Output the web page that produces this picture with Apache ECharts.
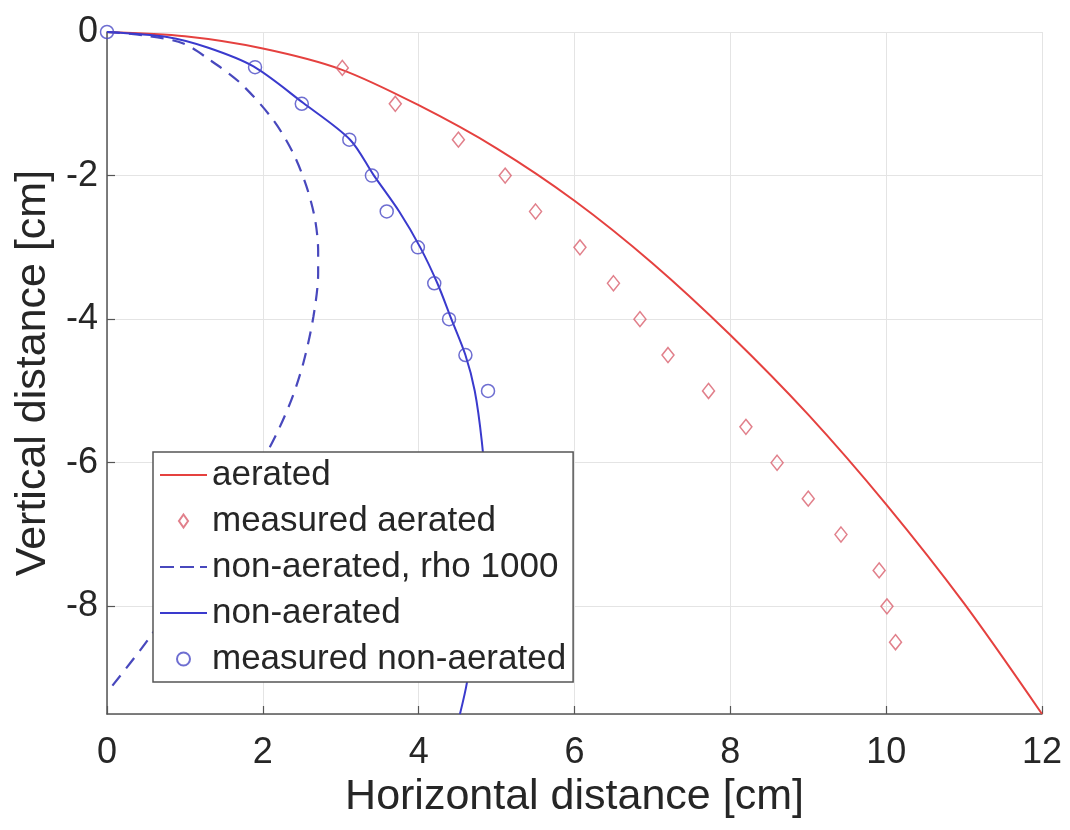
<!DOCTYPE html>
<html>
<head>
<meta charset="utf-8">
<script src="https://cdn.jsdelivr.net/npm/echarts@6/dist/echarts.min.js"></script>
<style>
html,body{margin:0;padding:0;background:#fff;}
#chart{width:1070px;height:830px;}
</style>
</head>
<body>
<div id="chart"></div>
<script>
// ---- data ----
const xTicks = [0, 2, 4, 6, 8, 10, 12];
const yTicks = [0, -2, -4, -6, -8];

const aeratedX = [0, 1, 2, 3, 4, 5, 6, 7, 8, 9, 10, 11, 12];
const aeratedY = [0, -0.06, -0.23, -0.52, -1.02, -1.62, -2.35, -3.22, -4.22, -5.33, -6.58, -7.96, -9.5];

const measAeratedX = [3.02, 3.70, 4.51, 5.11, 5.50, 6.07, 6.50, 6.84, 7.20, 7.72, 8.20, 8.60, 9.00, 9.42, 9.91, 10.01, 10.12];
const measAeratedY = [-0.5, -1.0, -1.5, -2.0, -2.5, -3.0, -3.5, -4.0, -4.5, -5.0, -5.5, -6.0, -6.5, -7.0, -7.5, -8.0, -8.5];

const rho1000X = [0, 0.5, 0.98, 1.32, 1.71, 2.13, 2.39, 2.56, 2.67, 2.71, 2.71, 2.65, 2.52, 2.35, 2.07, 1.5, 1.0, 0.53, 0];
const rho1000Y = [0, -0.05, -0.16, -0.39, -0.71, -1.22, -1.69, -2.15, -2.61, -3.05, -3.36, -3.96, -4.61, -5.17, -5.82, -6.8, -7.7, -8.46, -9.2];

const nonAeratedX = [0, 0.77, 1.3, 1.88, 2.52, 3.12, 3.42, 3.75, 4.02, 4.24, 4.42, 4.6, 4.72, 4.81, 4.85, 4.84, 4.78, 4.7, 4.62, 4.53];
const nonAeratedY = [0, -0.07, -0.22, -0.48, -0.99, -1.5, -1.99, -2.5, -3.0, -3.5, -4.0, -4.5, -5.0, -5.7, -6.3, -7.0, -7.7, -8.4, -9.06, -9.5];

const measNonAeratedX = [0, 1.90, 2.50, 3.11, 3.40, 3.59, 3.99, 4.20, 4.39, 4.60, 4.89];
const measNonAeratedY = [0, -0.49, -1.0, -1.5, -2.0, -2.5, -3.0, -3.5, -4.0, -4.5, -5.0];

const seriesNames = ['aerated', 'measured aerated', 'non-aerated, rho 1000', 'non-aerated', 'measured non-aerated'];

function pairs(xs, ys) { return xs.map((x, i) => [x, ys[i]]); }

const FONT = '"Liberation Sans", Arial, Helvetica, sans-serif';
const TXT = '#262626';
const AX = '#555555';
const GRID = '#e4e4e4';

const ICON_SOLID = 'path://M0,0H47V2H0Z';
const ICON_DASHED = 'path://M0,0H14V2.2H0Z M20,0H34V2.2H20Z M40,0H47V2.2H40Z';
const ICON_DIAMOND = 'path://M0,-10L7,0L0,10L-7,0Z';

const chart = echarts.init(document.getElementById('chart'), null, {renderer: 'canvas'});
chart.setOption({
  backgroundColor: '#ffffff',
  animation: false,
  textStyle: {fontFamily: FONT},
  grid: {left: 107, right: 28, top: 32, bottom: 116, containLabel: false},
  xAxis: {
    type: 'value', min: 0, max: 12, interval: 2,
    name: 'Horizontal distance [cm]', nameLocation: 'middle', nameGap: 62,
    nameTextStyle: {fontSize: 43, color: TXT, fontFamily: FONT},
    axisLine: {show: true, onZero: false, lineStyle: {color: AX, width: 1.5}},
    axisTick: {show: true, inside: true, length: 8, lineStyle: {color: AX, width: 1.2}},
    axisLabel: {fontSize: 36, color: TXT, margin: 21, fontFamily: FONT,
      formatter: v => xTicks.includes(v) ? String(v) : ''},
    splitLine: {show: true, lineStyle: {color: GRID, width: 1}}
  },
  yAxis: {
    type: 'value', min: -9.5, max: 0, splitNumber: 5,
    name: 'Vertical distance [cm]', nameLocation: 'middle', nameGap: 46, nameRotate: 90,
    nameTextStyle: {fontSize: 43, color: TXT, fontFamily: FONT},
    axisLine: {show: true, onZero: false, lineStyle: {color: AX, width: 1.5}},
    axisTick: {show: true, inside: true, length: 8, lineStyle: {color: AX, width: 1.2}},
    axisLabel: {fontSize: 36, color: TXT, margin: 9, fontFamily: FONT, showMinLabel: false,
      formatter: v => yTicks.includes(v) ? String(v) : ''},
    splitLine: {show: true, lineStyle: {color: GRID, width: 1}}
  },
  legend: {
    orient: 'vertical', left: 153, top: 452,
    padding: [3, 7, 3, 7],
    itemWidth: 47, itemHeight: 13, itemGap: 6,
    backgroundColor: '#ffffff', borderColor: AX, borderWidth: 1.5, borderRadius: 0,
    textStyle: {fontSize: 35, color: TXT, fontFamily: FONT, lineHeight: 40},
    data: [
      {name: seriesNames[0], icon: ICON_SOLID},
      {name: seriesNames[1], icon: ICON_DIAMOND},
      {name: seriesNames[2], icon: ICON_DASHED},
      {name: seriesNames[3], icon: ICON_SOLID},
      {name: seriesNames[4], icon: 'circle'}
    ]
  },
  series: [
    {
      name: seriesNames[0], type: 'line', data: pairs(aeratedX, aeratedY),
      smooth: 0.3, symbol: 'none', clip: false,
      lineStyle: {color: '#e5413f', width: 2}, itemStyle: {color: '#e5413f'}, z: 3
    },
    {
      name: seriesNames[1], type: 'scatter', data: pairs(measAeratedX, measAeratedY),
      symbol: 'diamond', symbolSize: [12, 15], clip: false,
      itemStyle: {color: 'rgba(255,255,255,0)', borderColor: '#d9606e', borderWidth: 1.5}, z: 4
    },
    {
      name: seriesNames[2], type: 'line', data: pairs(rho1000X, rho1000Y),
      smooth: 0.3, symbol: 'none', clip: false,
      lineStyle: {color: '#4848bd', width: 2.2, type: [13, 9]}, itemStyle: {color: '#4848bd'}, z: 3
    },
    {
      name: seriesNames[3], type: 'line', data: pairs(nonAeratedX, nonAeratedY),
      smooth: 0.3, symbol: 'none', clip: false,
      lineStyle: {color: '#3a3acd', width: 2}, itemStyle: {color: '#3a3acd'}, z: 3
    },
    {
      name: seriesNames[4], type: 'scatter', data: pairs(measNonAeratedX, measNonAeratedY),
      symbol: 'circle', symbolSize: 13, clip: false,
      itemStyle: {color: 'rgba(255,255,255,0)', borderColor: '#4a4ac6', borderWidth: 1.5}, z: 4
    }
  ]
});
</script>
</body>
</html>
